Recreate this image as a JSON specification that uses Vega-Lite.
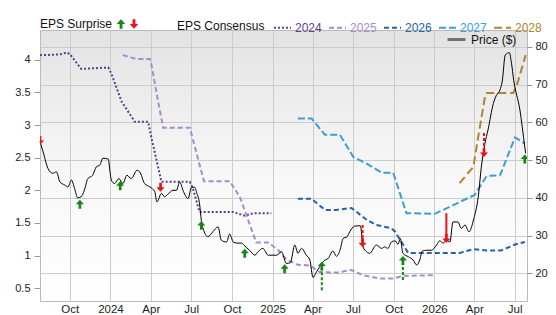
{
  "$schema": "https://vega.github.io/schema/vega-lite/v6.json",
  "width": 487,
  "height": 271,
  "autosize": {"type": "none"},
  "padding": {"left": 40, "top": 30, "right": 29, "bottom": 14},
  "background": "white",
  "config": {
    "font": "Liberation Sans",
    "axis": {"labelFont": "Liberation Sans", "labelColor": "#222222", "labelFontSize": 11, "tickColor": "#999999", "domain": false, "gridColor": "#cccccc", "title": null},
    "legend": {"labelFont": "Liberation Sans", "titleFont": "Liberation Sans", "titleFontWeight": "normal", "titleFontSize": 12, "labelFontSize": 12, "titleColor": "#111111", "labelColor": "#111111"}
  },
  "view": {
    "stroke": "#bbbbbb",
    "fill": {"gradient": "linear", "x1": 0, "y1": 0, "x2": 0, "y2": 1, "stops": [{"offset": 0, "color": "#e3e3e3"}, {"offset": 0.55, "color": "#f8f8f8"}, {"offset": 1, "color": "#ffffff"}]}
  },
  "datasets": {
    "eps": [
      {"d": "2023-07-26", "y": "2024", "v": 4.07}, {"d": "2023-09-09", "y": "2024", "v": 4.08}, {"d": "2023-09-24", "y": "2024", "v": 4.11}, {"d": "2023-10-01", "y": "2024", "v": 4.09}, {"d": "2023-10-27", "y": "2024", "v": 3.86}, {"d": "2023-12-27", "y": "2024", "v": 3.88}, {"d": "2024-01-03", "y": "2024", "v": 3.79}, {"d": "2024-01-26", "y": "2024", "v": 3.36}, {"d": "2024-02-25", "y": "2024", "v": 3.05}, {"d": "2024-03-26", "y": "2024", "v": 3.05}, {"d": "2024-04-02", "y": "2024", "v": 2.82}, {"d": "2024-04-14", "y": "2024", "v": 2.46}, {"d": "2024-04-25", "y": "2024", "v": 2.13}, {"d": "2024-06-28", "y": "2024", "v": 2.13}, {"d": "2024-07-05", "y": "2024", "v": 2.03}, {"d": "2024-07-20", "y": "2024", "v": 1.67}, {"d": "2024-10-04", "y": "2024", "v": 1.67}, {"d": "2024-10-30", "y": "2024", "v": 1.61}, {"d": "2024-11-18", "y": "2024", "v": 1.65}, {"d": "2024-12-29", "y": "2024", "v": 1.65},
      {"d": "2024-01-29", "y": "2025", "v": 4.07}, {"d": "2024-02-28", "y": "2025", "v": 4.01}, {"d": "2024-03-30", "y": "2025", "v": 4.01}, {"d": "2024-04-02", "y": "2025", "v": 3.94}, {"d": "2024-04-17", "y": "2025", "v": 3.38}, {"d": "2024-04-29", "y": "2025", "v": 2.96}, {"d": "2024-06-28", "y": "2025", "v": 2.96}, {"d": "2024-07-30", "y": "2025", "v": 2.14}, {"d": "2024-09-26", "y": "2025", "v": 2.14}, {"d": "2024-10-19", "y": "2025", "v": 1.9}, {"d": "2024-11-25", "y": "2025", "v": 1.2}, {"d": "2024-12-22", "y": "2025", "v": 1.2}, {"d": "2025-01-13", "y": "2025", "v": 1.09}, {"d": "2025-02-01", "y": "2025", "v": 0.94}, {"d": "2025-02-27", "y": "2025", "v": 0.86}, {"d": "2025-03-26", "y": "2025", "v": 0.85}, {"d": "2025-04-17", "y": "2025", "v": 0.75}, {"d": "2025-05-25", "y": "2025", "v": 0.74}, {"d": "2025-06-28", "y": "2025", "v": 0.78}, {"d": "2025-07-24", "y": "2025", "v": 0.7}, {"d": "2025-08-31", "y": "2025", "v": 0.65}, {"d": "2025-09-30", "y": "2025", "v": 0.65}, {"d": "2025-10-22", "y": "2025", "v": 0.69}, {"d": "2025-12-29", "y": "2025", "v": 0.7},
      {"d": "2025-02-27", "y": "2026", "v": 1.87}, {"d": "2025-03-30", "y": "2026", "v": 1.87}, {"d": "2025-04-29", "y": "2026", "v": 1.7}, {"d": "2025-05-25", "y": "2026", "v": 1.7}, {"d": "2025-06-28", "y": "2026", "v": 1.73}, {"d": "2025-08-01", "y": "2026", "v": 1.55}, {"d": "2025-08-23", "y": "2026", "v": 1.47}, {"d": "2025-09-26", "y": "2026", "v": 1.42}, {"d": "2025-10-04", "y": "2026", "v": 1.37}, {"d": "2025-11-03", "y": "2026", "v": 1.04}, {"d": "2026-02-27", "y": "2026", "v": 1.04}, {"d": "2026-03-30", "y": "2026", "v": 1.1}, {"d": "2026-04-29", "y": "2026", "v": 1.08}, {"d": "2026-06-01", "y": "2026", "v": 1.08}, {"d": "2026-07-02", "y": "2026", "v": 1.17}, {"d": "2026-07-24", "y": "2026", "v": 1.21},
      {"d": "2025-02-27", "y": "2027", "v": 3.1}, {"d": "2025-03-30", "y": "2027", "v": 3.1}, {"d": "2025-04-29", "y": "2027", "v": 2.85}, {"d": "2025-06-02", "y": "2027", "v": 2.85}, {"d": "2025-07-02", "y": "2027", "v": 2.51}, {"d": "2025-08-01", "y": "2027", "v": 2.41}, {"d": "2025-09-04", "y": "2027", "v": 2.27}, {"d": "2025-09-30", "y": "2027", "v": 2.27}, {"d": "2025-10-30", "y": "2027", "v": 1.65}, {"d": "2026-01-02", "y": "2027", "v": 1.64}, {"d": "2026-02-05", "y": "2027", "v": 1.75}, {"d": "2026-04-02", "y": "2027", "v": 1.93}, {"d": "2026-04-29", "y": "2027", "v": 2.22}, {"d": "2026-05-29", "y": "2027", "v": 2.23}, {"d": "2026-07-02", "y": "2027", "v": 2.81}, {"d": "2026-07-24", "y": "2027", "v": 2.72},
      {"d": "2026-02-27", "y": "2028", "v": 2.11}, {"d": "2026-03-30", "y": "2028", "v": 2.36}, {"d": "2026-04-10", "y": "2028", "v": 2.82}, {"d": "2026-04-25", "y": "2028", "v": 3.43}, {"d": "2026-04-29", "y": "2028", "v": 3.49}, {"d": "2026-06-28", "y": "2028", "v": 3.49}, {"d": "2026-07-06", "y": "2028", "v": 3.61}, {"d": "2026-07-26", "y": "2028", "v": 4.07}
    ],
    "price": [
      {"d": "2023-07-26", "p": 54.9}, {"d": "2023-08-02", "p": 52.2}, {"d": "2023-08-13", "p": 47.8}, {"d": "2023-08-24", "p": 46.5}, {"d": "2023-09-01", "p": 46.9}, {"d": "2023-09-09", "p": 44.2}, {"d": "2023-09-20", "p": 43.4}, {"d": "2023-09-27", "p": 42.9}, {"d": "2023-10-05", "p": 44.7}, {"d": "2023-10-12", "p": 42.5}, {"d": "2023-10-19", "p": 40.0}, {"d": "2023-10-27", "p": 40.3}, {"d": "2023-11-03", "p": 42.0}, {"d": "2023-11-11", "p": 45.1}, {"d": "2023-11-22", "p": 46.0}, {"d": "2023-11-30", "p": 48.2}, {"d": "2023-12-08", "p": 48.7}, {"d": "2023-12-15", "p": 50.5}, {"d": "2023-12-27", "p": 50.3}, {"d": "2023-12-31", "p": 46.9},
      {"d": "2024-01-03", "p": 44.7}, {"d": "2024-01-10", "p": 43.8}, {"d": "2024-01-20", "p": 45.1}, {"d": "2024-01-29", "p": 43.8}, {"d": "2024-02-07", "p": 46.0}, {"d": "2024-02-17", "p": 45.1}, {"d": "2024-03-01", "p": 47.3}, {"d": "2024-03-07", "p": 46.9}, {"d": "2024-03-18", "p": 43.8}, {"d": "2024-03-30", "p": 42.9}, {"d": "2024-04-10", "p": 41.6}, {"d": "2024-04-15", "p": 38.9}, {"d": "2024-04-25", "p": 41.2}, {"d": "2024-05-02", "p": 40.3}, {"d": "2024-05-10", "p": 41.0}, {"d": "2024-05-21", "p": 42.0}, {"d": "2024-05-29", "p": 42.0}, {"d": "2024-06-05", "p": 44.2}, {"d": "2024-06-14", "p": 41.6}, {"d": "2024-06-24", "p": 39.8}, {"d": "2024-07-02", "p": 42.8}, {"d": "2024-07-09", "p": 42.8}, {"d": "2024-07-14", "p": 41.2}, {"d": "2024-07-20", "p": 38.5}, {"d": "2024-07-24", "p": 34.1}, {"d": "2024-07-28", "p": 31.9}, {"d": "2024-08-08", "p": 29.7}, {"d": "2024-08-19", "p": 31.0}, {"d": "2024-08-31", "p": 32.3}, {"d": "2024-09-07", "p": 28.8}, {"d": "2024-09-19", "p": 28.3}, {"d": "2024-09-26", "p": 30.4}, {"d": "2024-10-04", "p": 28.3}, {"d": "2024-10-13", "p": 28.0}, {"d": "2024-10-23", "p": 28.0}, {"d": "2024-11-01", "p": 27.0}, {"d": "2024-11-10", "p": 26.1}, {"d": "2024-11-22", "p": 24.8}, {"d": "2024-11-29", "p": 25.7}, {"d": "2024-12-10", "p": 26.6}, {"d": "2024-12-22", "p": 24.8},
      {"d": "2025-01-02", "p": 24.8}, {"d": "2025-01-10", "p": 24.8}, {"d": "2025-01-21", "p": 25.7}, {"d": "2025-02-01", "p": 22.6}, {"d": "2025-02-10", "p": 22.8}, {"d": "2025-02-20", "p": 27.5}, {"d": "2025-02-27", "p": 25.3}, {"d": "2025-03-07", "p": 26.6}, {"d": "2025-03-18", "p": 24.8}, {"d": "2025-03-26", "p": 23.5}, {"d": "2025-04-02", "p": 18.9}, {"d": "2025-04-10", "p": 20.4}, {"d": "2025-04-17", "p": 21.7}, {"d": "2025-04-29", "p": 23.5}, {"d": "2025-05-06", "p": 23.9}, {"d": "2025-05-17", "p": 25.9}, {"d": "2025-05-25", "p": 24.5}, {"d": "2025-06-02", "p": 26.1}, {"d": "2025-06-09", "p": 29.2}, {"d": "2025-06-18", "p": 29.7}, {"d": "2025-06-24", "p": 31.0}, {"d": "2025-07-05", "p": 32.5}, {"d": "2025-07-18", "p": 32.6}, {"d": "2025-07-24", "p": 27.0}, {"d": "2025-08-01", "p": 25.7}, {"d": "2025-08-08", "p": 25.3}, {"d": "2025-08-23", "p": 27.5}, {"d": "2025-09-04", "p": 26.6}, {"d": "2025-09-11", "p": 27.0}, {"d": "2025-09-18", "p": 26.6}, {"d": "2025-09-26", "p": 28.3}, {"d": "2025-10-04", "p": 28.6}, {"d": "2025-10-11", "p": 27.7}, {"d": "2025-10-16", "p": 29.2}, {"d": "2025-10-22", "p": 25.3}, {"d": "2025-11-03", "p": 24.4}, {"d": "2025-11-14", "p": 23.5}, {"d": "2025-11-22", "p": 22.2}, {"d": "2025-11-29", "p": 23.5}, {"d": "2025-12-05", "p": 25.9}, {"d": "2025-12-14", "p": 26.1}, {"d": "2025-12-25", "p": 26.1},
      {"d": "2026-01-06", "p": 27.5}, {"d": "2026-01-13", "p": 28.6}, {"d": "2026-01-21", "p": 28.0}, {"d": "2026-01-28", "p": 28.8}, {"d": "2026-02-05", "p": 28.3}, {"d": "2026-02-12", "p": 33.6}, {"d": "2026-02-23", "p": 33.6}, {"d": "2026-03-03", "p": 31.9}, {"d": "2026-03-11", "p": 32.8}, {"d": "2026-03-20", "p": 31.0}, {"d": "2026-03-31", "p": 34.5}, {"d": "2026-04-10", "p": 40.3}, {"d": "2026-04-17", "p": 48.2}, {"d": "2026-04-25", "p": 54.4}, {"d": "2026-05-02", "p": 58.0}, {"d": "2026-05-14", "p": 65.0}, {"d": "2026-05-21", "p": 67.2}, {"d": "2026-05-29", "p": 68.6}, {"d": "2026-06-03", "p": 70.8}, {"d": "2026-06-10", "p": 77.9}, {"d": "2026-06-19", "p": 78.5}, {"d": "2026-06-24", "p": 75.7}, {"d": "2026-06-29", "p": 71.2}, {"d": "2026-07-13", "p": 63.3}, {"d": "2026-07-24", "p": 53.5}, {"d": "2026-07-26", "p": 51.8}
    ],
    "surprise": [
      {"d": "2023-07-26", "dir": "down", "c": 55.2, "s": null, "ls": "solid"},
      {"d": "2023-10-24", "dir": "up", "c": 38.3, "s": null, "ls": "solid"},
      {"d": "2024-01-23", "dir": "up", "c": 43.2, "s": null, "ls": "solid"},
      {"d": "2024-04-23", "dir": "down", "c": 42.8, "s": null, "ls": "solid"},
      {"d": "2024-07-24", "dir": "up", "c": 32.7, "s": null, "ls": "solid"},
      {"d": "2024-10-30", "dir": "up", "c": 25.3, "s": null, "ls": "solid"},
      {"d": "2025-01-28", "dir": "up", "c": 21.2, "s": null, "ls": "solid"},
      {"d": "2025-04-22", "dir": "up", "c": 21.9, "s": 15.5, "ls": "dashed"},
      {"d": "2025-07-23", "dir": "down", "c": 28.1, "s": 32.8, "ls": "dashed"},
      {"d": "2025-10-22", "dir": "up", "c": 23.4, "s": 18.2, "ls": "dashed"},
      {"d": "2026-01-28", "dir": "down", "c": 29.2, "s": 35.9, "ls": "solid"},
      {"d": "2026-04-23", "dir": "down", "c": 52.0, "s": 57.2, "ls": "dashed"},
      {"d": "2026-07-24", "dir": "up", "c": 50.3, "s": null, "ls": "solid"}
    ]
  },
  "encoding": {
    "x": {
      "field": "d", "type": "temporal",
      "scale": {"type": "utc", "domain": [{"year": 2023, "month": 7, "date": 26, "utc": true}, {"year": 2026, "month": 7, "date": 29, "utc": true}]},
      "axis": {"orient": "bottom", "ticks": false, "grid": true, "labelPadding": 2, "labelFontSize": 11.5, "tickCount": {"interval": "month", "step": 3}, "labelExpr": "utcFormat(datum.value, '%m') == '01' ? utcFormat(datum.value, '%Y') : utcFormat(datum.value, '%b')"}
    }
  },
  "layer": [
    {
      "data": {"name": "eps"},
      "mark": {"type": "line", "strokeWidth": 2},
      "encoding": {
        "y": {"field": "v", "type": "quantitative", "scale": {"domain": [0.3055, 4.455], "nice": false, "zero": false}, "axis": {"orient": "left", "grid": false, "format": "~g", "values": [0.5, 1, 1.5, 2, 2.5, 3, 3.5, 4], "tickSize": 6, "labelPadding": 4}},
        "color": {"field": "y", "type": "nominal", "scale": {"domain": ["2024", "2025", "2026", "2027", "2028"], "range": ["#5e3c8f", "#a98bc9", "#2462a8", "#3aa0d4", "#b3822f"]},
          "legend": {"title": "EPS Consensus", "orient": "none", "legendX": 137, "legendY": -12, "direction": "horizontal", "titleOrient": "left", "titlePadding": 8, "symbolType": "stroke", "symbolSize": 289, "symbolStrokeWidth": 2, "labelOffset": 3, "columnPadding": 3, "labelColor": {"expr": "scale('color', datum.value)"}}},
        "strokeDash": {"field": "y", "type": "nominal", "scale": {"domain": ["2024", "2025", "2026", "2027", "2028"], "range": [[2, 2], [5, 3], [5, 3], [7, 3], [8, 4]]},
          "legend": {"title": "EPS Consensus", "orient": "none", "legendX": 137, "legendY": -12, "direction": "horizontal", "titleOrient": "left", "titlePadding": 8, "symbolType": "stroke", "symbolSize": 289, "symbolStrokeWidth": 2, "labelOffset": 3, "columnPadding": 3, "labelColor": {"expr": "scale('color', datum.value)"}}}
      }
    },
    {
      "encoding": {
        "y": {"type": "quantitative", "scale": {"domain": [12.65, 84.5], "nice": false, "zero": false}, "axis": {"orient": "right", "grid": true, "values": [20, 30, 40, 50, 60, 70, 80], "tickSize": 5, "labelPadding": 3}}
      },
      "layer": [
        {
          "data": {"name": "price"},
          "mark": {"type": "line", "strokeWidth": 1, "interpolate": "monotone"},
          "encoding": {
            "y": {"field": "p", "type": "quantitative"},
            "stroke": {"datum": "Price ($)", "type": "nominal", "scale": {"range": ["#000000"]},
              "legend": {"title": null, "orient": "none", "legendX": 406, "legendY": -1, "symbolType": "stroke", "symbolSize": 324, "symbolStrokeWidth": 3, "symbolOpacity": 0.5, "labelOffset": 4}}
          }
        },
        {
          "data": {"name": "surprise"},
          "transform": [{"filter": "datum.s != null"}],
          "mark": {"type": "rule", "strokeWidth": 2},
          "encoding": {
            "y": {"field": "s", "type": "quantitative"},
            "y2": {"field": "c"},
            "stroke": {"condition": {"test": "datum.dir == 'up'", "value": "#118811"}, "value": "#ee1111"},
            "strokeDash": {"condition": {"test": "datum.ls == 'dashed'", "value": [3, 2]}, "value": [1, 0]}
          }
        },
        {
          "data": {"name": "surprise"},
          "mark": {"type": "point", "filled": true, "strokeWidth": 0, "opacity": 1, "size": 80, "clip": true},
          "encoding": {
            "y": {"field": "c", "type": "quantitative"},
            "shape": {"field": "dir", "type": "nominal", "scale": {"domain": ["up", "down"], "range": ["M0,-1L0.9,0L0.3,0L0.3,1L-0.3,1L-0.3,0L-0.9,0Z", "M0,1L0.9,0L0.3,0L0.3,-1L-0.3,-1L-0.3,0L-0.9,0Z"]},
              "legend": {"title": "EPS Surprise", "orient": "none", "legendX": 0, "legendY": -12, "direction": "horizontal", "titleOrient": "left", "titlePadding": 2, "labelExpr": "''", "labelOffset": 0, "columnPadding": 1, "symbolSize": 90, "symbolStrokeWidth": 0}},
            "fill": {"field": "dir", "type": "nominal", "scale": {"domain": ["up", "down"], "range": ["#118811", "#ee1111"]},
              "legend": {"title": "EPS Surprise", "orient": "none", "legendX": 0, "legendY": -12, "direction": "horizontal", "titleOrient": "left", "titlePadding": 2, "labelExpr": "''", "labelOffset": 0, "columnPadding": 1, "symbolSize": 90, "symbolStrokeWidth": 0}}
          }
        }
      ]
    }
  ],
  "resolve": {"scale": {"y": "independent"}}
}
